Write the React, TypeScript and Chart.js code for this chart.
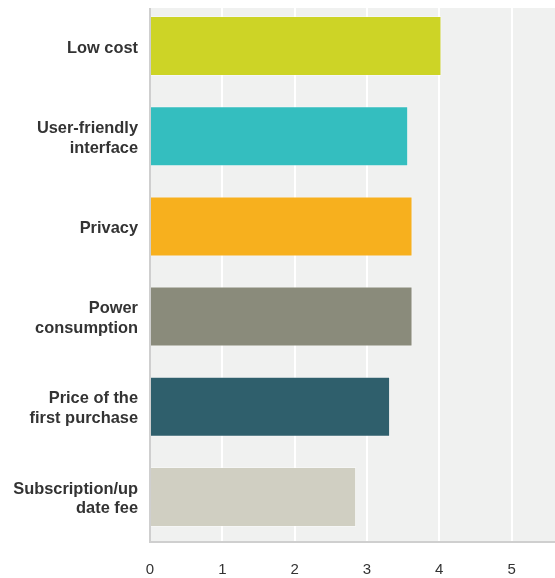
import React, { useEffect, useRef } from "react";
import { Chart, registerables } from "chart.js";

Chart.register(...registerables);

const categories: (string | string[])[] = [
  "Low cost",
  ["User-friendly", "interface"],
  "Privacy",
  ["Power", "consumption"],
  ["Price of the", "first purchase"],
  ["Subscription/up", "date fee"],
];
const values = [4.03, 3.57, 3.63, 3.63, 3.32, 2.85];
const barColors = ["#cdd426", "#34bebf", "#f7b01e", "#8a8b7b", "#2f5f6c", "#d0cfc2"];
const xTicks = [0, 1, 2, 3, 4, 5];
const xMax = 5.6;

const bgPlugin = {
  id: "plotBg",
  beforeDraw(chart: any) {
    const { ctx, chartArea } = chart;
    if (!chartArea) return;
    ctx.save();
    ctx.fillStyle = "#f0f1f0";
    ctx.fillRect(chartArea.left, chartArea.top + 7, chartArea.right - chartArea.left, chartArea.bottom - chartArea.top - 7);
    ctx.restore();
  },
  afterDraw(chart: any) {
    const { ctx, chartArea } = chart;
    if (!chartArea) return;
    ctx.save();
    ctx.fillStyle = "#cfcfcf";
    ctx.fillRect(chartArea.left - 1, chartArea.top + 7, 2, chartArea.bottom - chartArea.top - 7);
    ctx.restore();
  },
};

export default function App() {
  const ref = useRef<HTMLCanvasElement>(null);
  useEffect(() => {
    if (!ref.current) return;
    const chart = new Chart(ref.current, {
      type: "bar",
      data: {
        labels: categories,
        datasets: [
          {
            data: values,
            backgroundColor: barColors,
            borderColor: "rgba(255,255,255,0.35)",
            borderWidth: 1,
            barPercentage: 0.665,
            categoryPercentage: 1,
          },
        ],
      },
      options: {
        indexAxis: "y",
        animation: false,
        responsive: false,
        maintainAspectRatio: false,
        layout: { padding: { top: 1, right: 0, left: 0, bottom: 0 } },
        plugins: { legend: { display: false }, tooltip: { enabled: false } },
        scales: {
          x: {
            min: 0,
            max: xMax,
            afterBuildTicks: (scale: any) => {
              scale.ticks = xTicks.map((v) => ({ value: v }));
            },
            afterFit: (scale: any) => {
              scale.height = 36;
              scale.paddingLeft = 0;
              scale.paddingRight = 0;
            },
            grid: {
              color: (c: any) => (c.tick && c.tick.value === 0 ? "rgba(0,0,0,0)" : "#ffffff"),
              lineWidth: 2,
              drawTicks: false,
            },
            border: { display: true, color: "#cfcfcf", width: 2 },
            ticks: {
              color: "#333333",
              padding: 19,
              font: { family: "'Liberation Sans', Arial, sans-serif", size: 15 },
            },
          },
          y: {
            afterFit: (scale: any) => {
              scale.width = 150;
              scale.paddingTop = 0;
              scale.paddingBottom = 0;
            },
            grid: { display: false, drawTicks: false },
            border: { display: false },
            ticks: {
              color: "#333333",
              padding: 12,
              labelOffset: 2,
              font: { family: "'Liberation Sans', Arial, sans-serif", size: 16.4, weight: "bold", lineHeight: 1.2 },
            },
          },
        },
      },
      plugins: [bgPlugin],
    });
    return () => chart.destroy();
  }, []);
  return (
    <div style={{ position: "absolute", left: 0, top: 0, width: 555, height: 578, background: "#fff" }}>
      <canvas ref={ref} width={555} height={578} style={{ display: "block", width: 555, height: 578 }} />
    </div>
  );
}
